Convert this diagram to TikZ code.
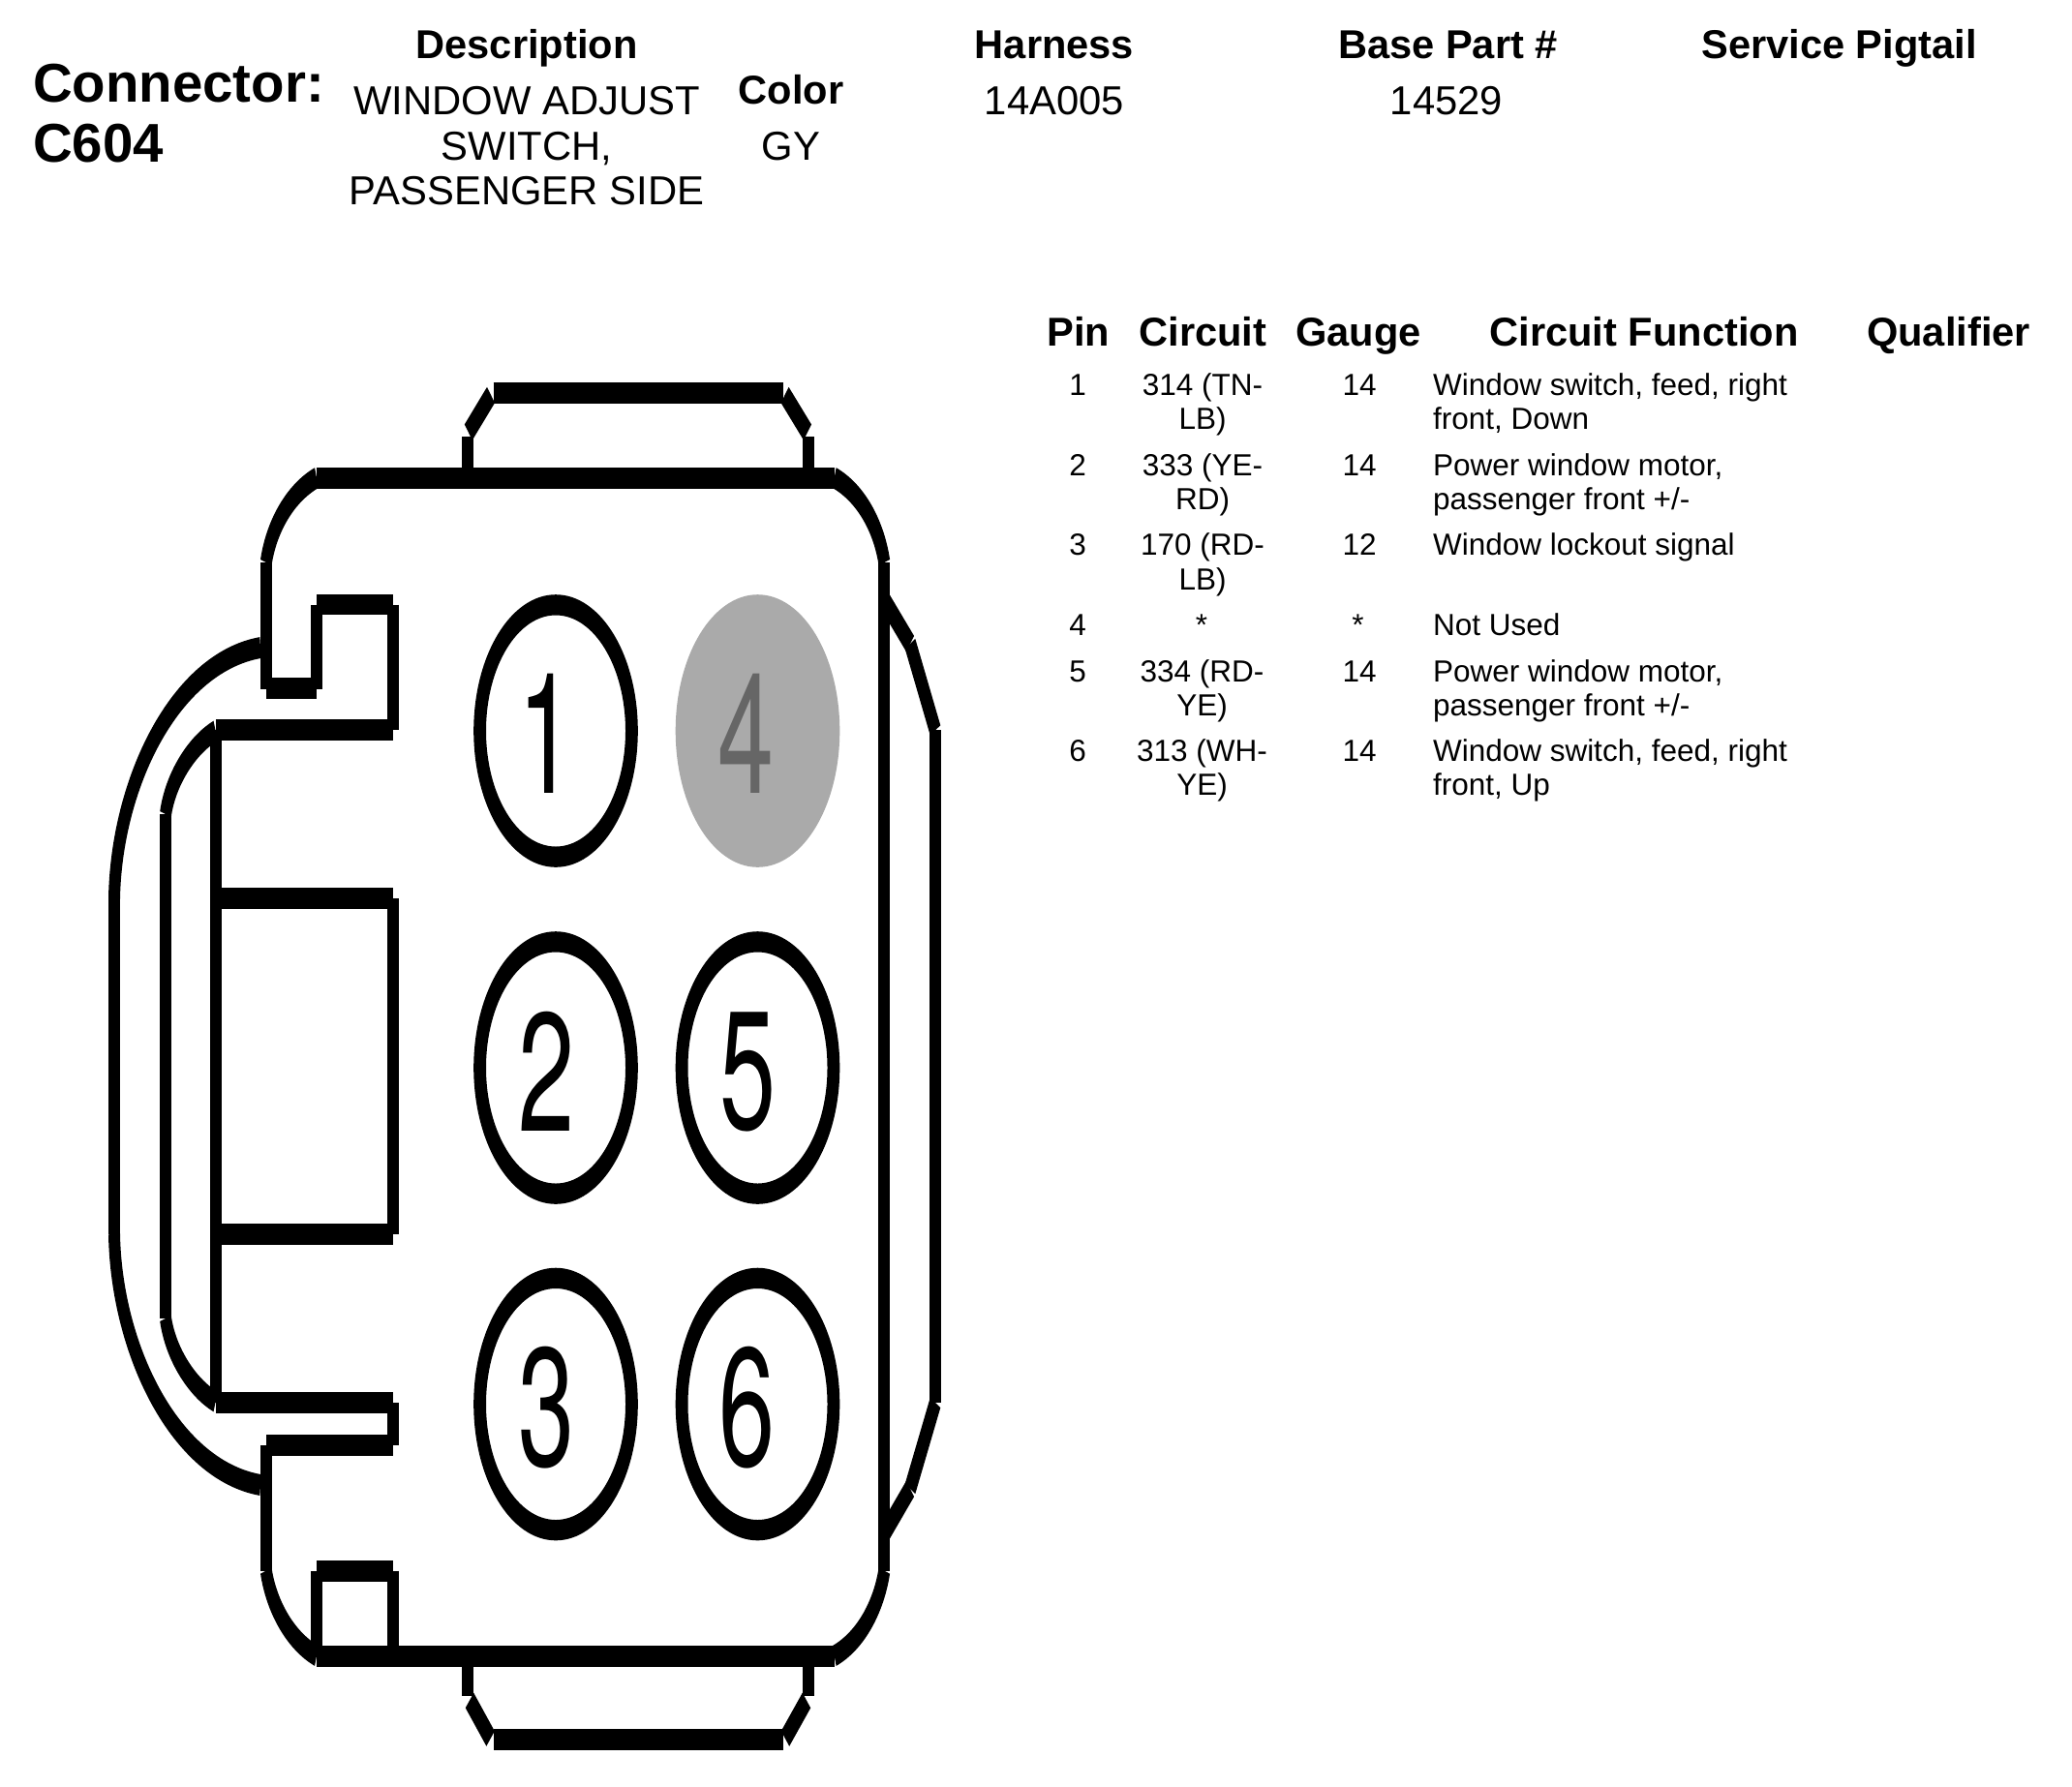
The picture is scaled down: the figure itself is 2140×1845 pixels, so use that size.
\documentclass[tikz,border=0pt]{standalone}
\usepackage{fontspec}
\usepackage{graphicx}
\setmainfont{Liberation Sans}
\newfontfamily\pinfont{TeX Gyre Heros}
\tikzset{
  ol/.style={draw=black,line width=12pt,line cap=butt},
  cell/.style={inner sep=0pt,outer sep=0pt,anchor=base,align=center,font=\fontsize{31.5}{35}\selectfont},
  leftcell/.style={cell,align=left,anchor=base west},
  thead/.style={cell,font=\fontsize{41.6}{50}\selectfont\bfseries},
  val/.style={cell,font=\fontsize{41.8}{47}\selectfont},
  title/.style={inner sep=0pt,outer sep=0pt,anchor=base west,font=\fontsize{56.4}{62.7}\selectfont\bfseries},
  digit/.style={inner sep=0pt,outer sep=0pt,anchor=base,font=\fontsize{174}{174}\selectfont\pinfont},
}
\newcommand{\ring}[2]{\fill[black,even odd rule] (#1,#2) ellipse [x radius=84.8,y radius=140.8] (#1,#2) ellipse [x radius=72,y radius=119.5];}
\begin{document}
\begin{tikzpicture}[x=1pt,y=-1pt]
\useasboundingbox (0,0) rectangle (2140,1845);
\begin{scope}[transform canvas={yscale=1.83},y=-0.54645pt]
 % top tab
 \draw[ol] (509.6,406.4) -- (809,406.4);
 \draw[ol] (483.8,446.6) -- (507,408);
 \draw[ol] (810.6,408) -- (834,446.6);
 \draw[ol] (483,451) -- (483,484);
 \draw[ol] (835,451) -- (835,484);
 % body top
 \draw[ol] (327,493.6) -- (861.7,493.6);
 \draw[ol] (861.7,493.6) .. controls (890,510) and (908,545) .. (913.3,581);
 \draw[ol] (327,493.6) .. controls (299,510) and (280,545) .. (274.8,581);
 \draw[ol] (913.3,581) -- (913.3,1622.6);
 \draw[ol] (274.8,581) -- (274.8,711.5);
 % notch
 \draw[ol] (275.4,711) -- (327,711);
 \draw[ol] (327,711.5) -- (327,624.5);
 \draw[ol] (327,624.5) -- (405.7,624.5);
 \draw[ol] (405.7,624.5) -- (405.7,754.4);
 \draw[ol] (405.7,754.4) -- (222.6,754.4);
 \draw[ol] (222.6,754.4) -- (222.6,1449);
 % central box
 \draw[ol] (222.6,928.4) -- (405.7,928.4);
 \draw[ol] (405.7,928.4) -- (405.7,1274.8);
 \draw[ol] (405.7,1274.8) -- (222.6,1274.8);
 % lower notch
 \draw[ol] (222.6,1449) -- (405.7,1449);
 \draw[ol] (405.7,1449) -- (405.7,1492.9);
 \draw[ol] (405.7,1492.9) -- (275.4,1492.9);
 \draw[ol] (274.8,1492.9) -- (274.8,1622.6);
 % body bottom
 \draw[ol] (274.8,1622.6) .. controls (280,1658) and (299,1694) .. (327,1710.5);
 \draw[ol] (913.3,1622.6) .. controls (908,1658) and (890,1694) .. (861.7,1710.5);
 \draw[ol] (327,1710.5) -- (861.7,1710.5);
 % small square
 \draw[ol] (327,1710.5) -- (327,1622.6);
 \draw[ol] (327,1622.6) -- (405.7,1622.6);
 \draw[ol] (405.7,1622.6) -- (405.7,1710.5);
 % bottom tab
 \draw[ol] (483,1711) -- (483,1751.8);
 \draw[ol] (835,1711) -- (835,1751.8);
 \draw[ol] (485,1756.5) -- (506.6,1796);
 \draw[ol] (833,1756.5) -- (811,1796);
 \draw[ol] (509.6,1797) -- (809,1797);
 % outer handle
 \draw[ol] (118,928.4) -- (118,1274.8);
 \draw[ol] (118,928.4) .. controls (120,810) and (180,685) .. (269,669);
 \draw[ol] (118,1274.8) .. controls (120,1393) and (180,1518) .. (269,1534);
 % inner handle
 \draw[ol] (171,841) -- (171,1362);
 \draw[ol] (171,841) .. controls (176,805) and (198,770) .. (222.6,755);
 \draw[ol] (171,1362) .. controls (176,1398) and (198,1433) .. (222.6,1448);
 % right side
 \draw[ol] (966,754.4) -- (966,1449);
 \draw[ol] (914.5,622) -- (940,665);
 \draw[ol] (940,665) -- (966,754.4);
 \draw[ol] (914.5,1582) -- (940,1538);
 \draw[ol] (940,1538) -- (966,1449);
\end{scope}
% pins
\ring{574}{755}
\ring{574}{1103}
\ring{574}{1450.5}
\fill[fill={rgb,255:red,170;green,170;blue,170}] (782.5,755) ellipse [x radius=84.8,y radius=140.8];
\ring{782.5}{1103}
\ring{782.5}{1450.5}
\node[digit] (p1) at (565,819) {\scalebox{0.6}[1]{1}};
\node[digit] (p2) at (565,1168) {\scalebox{0.6}[1]{2}};
\node[digit] (p3) at (565,1514) {\scalebox{0.6}[1]{3}};
\node[digit,text={rgb,255:red,102;green,102;blue,102}] (p4) at (771,819) {\scalebox{0.6}[1]{4}};
\node[digit] (p5) at (773,1166) {\scalebox{0.6}[1]{5}};
\node[digit] (p6) at (772,1514) {\scalebox{0.6}[1]{6}};
% title block
\node[title] (t1) at (34,105) {Connector:};
\node[title] (t2) at (34,167.7) {C604};
\node[thead] (h1) at (544,60) {Description};
\node[thead] (h2) at (817,107) {Color};
\node[thead] (h3) at (1089,60) {Harness};
\node[thead] (h4) at (1495.5,60) {Base Part \#};
\node[thead] (h5) at (1899.5,60) {Service Pigtail};
\node[val] (v1a) at (544,118) {WINDOW ADJUST};
\node[val] (v1b) at (544,165) {SWITCH,};
\node[val] (v1c) at (544,211.7) {PASSENGER SIDE};
\node[val] (v2) at (817,165) {GY};
\node[val] (v3) at (1089,118) {14A005};
\node[val] (v4) at (1494,118) {14529};
% table
\node[thead] (c1) at (1113.7,357) {Pin};
\node[thead] (c2) at (1242.5,357) {Circuit};
\node[thead] (c3) at (1403,357) {Gauge};
\node[thead] (c4) at (1698,357) {Circuit Function};
\node[thead] (c5) at (2012.5,357) {Qualifier};
\node[cell] (a1) at (1113,408) {1};
\node[cell] (a2) at (1113,491) {2};
\node[cell] (a3) at (1113,573.5) {3};
\node[cell] (a4) at (1113,656) {4};
\node[cell] (a5) at (1113,704) {5};
\node[cell] (a6) at (1113,786) {6};
\node[cell] (b1) at (1242,408) {314 (TN-}; \node[cell] (b1x) at (1242,443.5) {LB)};
\node[cell] (b2) at (1242,491) {333 (YE-}; \node[cell] (b2x) at (1242,526.5) {RD)};
\node[cell] (b3) at (1242,573.5) {170 (RD-}; \node[cell] (b3x) at (1242,609) {LB)};
\node[cell] (b4) at (1241,656) {*};
\node[cell] (b5) at (1241.5,704) {334 (RD-}; \node[cell] (b5x) at (1241.5,739.5) {YE)};
\node[cell] (b6) at (1241.5,786) {313 (WH-}; \node[cell] (b6x) at (1241.5,821.5) {YE)};
\node[cell] (d1) at (1404,408) {14};
\node[cell] (d2) at (1404,491) {14};
\node[cell] (d3) at (1404,573.5) {12};
\node[cell] (d4) at (1402.5,656) {*};
\node[cell] (d5) at (1404,704) {14};
\node[cell] (d6) at (1404,786) {14};
\node[leftcell] (e1) at (1480,408) {Window switch, feed, right}; \node[leftcell] (e1x) at (1480,443.5) {front, Down};
\node[leftcell] (e2) at (1480,491) {Power window motor,}; \node[leftcell] (e2x) at (1480,526.5) {passenger front +/-};
\node[leftcell] (e3) at (1480,573.5) {Window lockout signal};
\node[leftcell] (e4) at (1480,656) {Not Used};
\node[leftcell] (e5) at (1480,704) {Power window motor,}; \node[leftcell] (e5x) at (1480,739.5) {passenger front +/-};
\node[leftcell] (e6) at (1480,786) {Window switch, feed, right}; \node[leftcell] (e6x) at (1480,821.5) {front, Up};
\end{tikzpicture}
\end{document}
